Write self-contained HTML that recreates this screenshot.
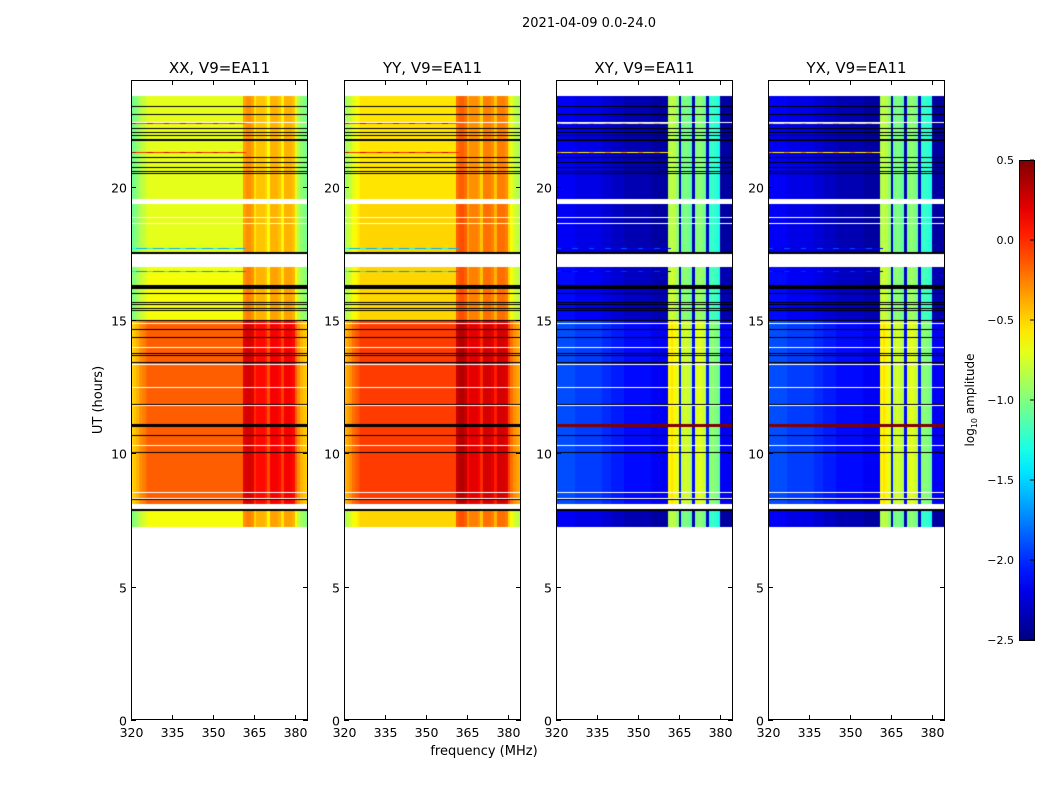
<!DOCTYPE html>
<html><head><meta charset="utf-8">
<style>
body{margin:0;background:#fff;width:1050px;height:800px;overflow:hidden;font-family:"DejaVu Sans","Liberation Sans",sans-serif;}
#root{position:relative;width:1050px;height:800px;}
canvas{position:absolute;}
svg{position:absolute;left:0;top:0;}
</style></head>
<body><div id="root">
<svg id="ov" width="1050" height="800"></svg>
</div>
<script>
// ---- data ----
const panelTitles = ["XX, V9=EA11","YY, V9=EA11","XY, V9=EA11","YX, V9=EA11"];
const panelKind = ["par","par","cross","cross"];
const xTicks = [320,335,350,365,380];
const yTicks = [0,5,10,15,20];
const cbTicks = [0.5,0.0,-0.5,-1.0,-1.5,-2.0,-2.5];
// time bands (hours) and levels per panel
const bandStart = [7.25, 8.1, 15.0, 17.5, 19.54];
const bandEnd   = [7.9, 15.0, 17.0, 19.35, 23.4];
const xxLevel = [-0.65, -0.15, -0.65, -0.7, -0.7];
const yyLevel = [-0.5, -0.05, -0.5, -0.5, -0.55];
const xyLevel = [-2.4, -2.15, -2.35, -2.4, -2.4];
const yxLevel = [-2.4, -2.15, -2.35, -2.4, -2.4];
// frequency profiles (1 MHz columns, 320..384)
const freqs = Array.from({length:65},(_,i)=>320+i);
const parProfile = [-0.35,-0.3,-0.25,-0.15,-0.1,-0.05,0,0,0,0, 0,0,0,0,0,0,0,0,0,0, 0,0,0,0,0,0,0,0,0,0, 0,0,0,0,0,0,0,0,0,0, 0,0.35,0.4,0.4,0.35,0.15,0.25,0.25,0.25,0.2, 0.05,0.3,0.3,0.3,0.25,0.1,0.3,0.3,0.3,0.25, 0.0,-0.15,-0.25,-0.3,-0.35];
const crossProfile = [0.25,0.25,0.25,0.25,0.25,0.25,0.25,0.2,0.2,0.2, 0.2,0.2,0.2,0.2,0.2,0.2,0.2,0.15,0.15,0.15, 0.1,0.1,0.1,0.1,0.1,0.05,0.05,0.05,0.05,0.05, 0.05,0.05,0.05,0.05,0.05,0,0,0,0,0, 0,1.55,1.6,1.55,1.45,0.1,1.35,1.4,1.35,1.3, 0.05,1.4,1.45,1.4,1.35,0.1,1.15,1.2,1.15,1.1, 0,0,0,0,0];
const blackLines = [23.02,22.72,22.2,22.05,21.94,21.75,21.11,20.93,20.74,20.59,20.51,17.51,16.24,16.01,15.68,15.6,15.45,15.38,15.0,14.66,14.36,13.76,13.69,13.43,11.85,11.06,10.69,10.05,8.29,7.88];
const blackWidth = [1,1,1,1,1,2,1,1,1,1,1,2,4,1,1,1,1,1,1,1,1,1,1,1,1,3,1,1,1,2];
const whiteLines = [22.43,18.86,18.62,14.9,14.0,13.35,12.5,11.8,10.3,8.55,8.32];
const spotLines = [22.4,21.3,17.7,16.85];
const spotVal = [0.2,0.3,-1.3,-1.4];
</script>
<script>
const NS="http://www.w3.org/2000/svg";
const ov=document.getElementById('ov');
const root=document.getElementById('root');
const lefts=[131,344,556,768], TOP=80, W=177, H=640, XMIN=320, XMAX=384.9, YMAX=24;
function jet(v){
  v=Math.max(0,Math.min(1,v));
  const r=Math.max(0,Math.min(1,1.5-Math.abs(4*v-3)));
  const g=Math.max(0,Math.min(1,1.5-Math.abs(4*v-2)));
  const b=Math.max(0,Math.min(1,1.5-Math.abs(4*v-1)));
  return `rgb(${Math.round(r*255)},${Math.round(g*255)},${Math.round(b*255)})`;
}
function norm(val){return (val+2.5)/3;}
function mk(tag,attrs,parent){const e=document.createElementNS(NS,tag);for(const k in attrs)e.setAttribute(k,attrs[k]);(parent||ov).appendChild(e);return e;}
function txt(x,y,s,size,anchor,parent){const t=mk('text',{x:x,y:y,'font-size':size,'text-anchor':anchor||'middle','font-family':'DejaVu Sans, Liberation Sans, sans-serif',fill:'#000'},parent);t.textContent=s;return t;}

const t0=txt(589,27,"2021-04-09 0.0-24.0",13);



for(let p=0;p<4;p++){
  const L=lefts[p];
  const sx=f=>Math.round((f-XMIN)/(XMAX-XMIN)*W);
  const sy=h=>Math.round(H-h/YMAX*H);
  const cv=document.createElement('canvas');
  cv.width=W;cv.height=H;cv.style.left=L+'px';cv.style.top=TOP+'px';
  
  
  root.insertBefore(cv,ov);
  const ctx=cv.getContext('2d');
  const levels=[xxLevel,yyLevel,xyLevel,yxLevel][p];
  const prof=panelKind[p]==='par'?parProfile:crossProfile;
  for(let b=0;b<bandStart.length;b++){
    const y0=sy(bandEnd[b]), y1=sy(bandStart[b]);
    for(let i=0;i<freqs.length;i++){
      const x0=sx(freqs[i]), x1=Math.min(W,sx(freqs[i]+1));
      ctx.fillStyle=jet(norm(levels[b]+prof[i]));
      ctx.fillRect(x0,y0,Math.max(1,x1-x0),y1-y0);
    }
  }
  for(let k=0;k<spotLines.length;k++){
    for(let i=0;i<41;i+=2){
      const base=panelKind[p]==='par'?spotVal[k]:spotVal[k]-0.6;
      ctx.fillStyle=jet(norm(base+((i%6)?-0.3:0)));
      ctx.fillRect(sx(freqs[i]),sy(spotLines[k]),sx(freqs[i]+2)-sx(freqs[i]),1);
    }
  }
  for(let k=0;k<whiteLines.length;k++){ctx.fillStyle='#fff';ctx.fillRect(0,sy(whiteLines[k]),W,1);}
  for(let k=0;k<blackLines.length;k++){
    ctx.fillStyle=(panelKind[p]==='cross'&&Math.abs(blackLines[k]-11.06)<0.01)?'#7f0000':'#000';
    ctx.fillRect(0,sy(blackLines[k])-Math.floor(blackWidth[k]/2),W,blackWidth[k]);
  }
  const g=mk('g',{});
  
  
  mk('rect',{x:L+0.5,y:TOP+0.5,width:W-1,height:H-1,fill:'none',stroke:'#000','stroke-width':1},g);
  const tt=txt(L+W/2,TOP-7,panelTitles[p],15,'middle',g);
  
  
  for(const f of xTicks){
    const x=L+sx(f)+0.5;
    mk('line',{x1:x,y1:TOP+H,x2:x,y2:TOP+H-5,stroke:'#000'},g);
    mk('line',{x1:x,y1:TOP,x2:x,y2:TOP+5,stroke:'#000'},g);
    const lt=txt(x,TOP+H+17,String(f),12.5,'middle',g);
    
    
  }
  for(const h of yTicks){
    const y=TOP+sy(h)+0.5;
    mk('line',{x1:L,y1:y,x2:L+5,y2:y,stroke:'#000'},g);
    mk('line',{x1:L+W,y1:y,x2:L+W-5,y2:y,stroke:'#000'},g);
    const lt=txt(L-4,y+5,String(h),12.5,'end',g);
    
    
  }
}
const yl=txt(0,0,"UT (hours)",13);
yl.setAttribute('transform','translate(102,400) rotate(-90)');


const xl=txt(484,755,"frequency (MHz)",13);



const CBX=1019,CBY=160,CBW=15,CBH=480;
const cb=mk('g',{});


const defs=mk('defs',{},cb);
const lg=mk('linearGradient',{id:'jetg',x1:0,y1:1,x2:0,y2:0},defs);
for(let i=0;i<=20;i++){mk('stop',{offset:i/20,'stop-color':jet(i/20)},lg);}
mk('rect',{x:CBX+0.5,y:CBY+0.5,width:CBW,height:CBH,fill:'url(#jetg)',stroke:'#000'},cb);
for(const v of cbTicks){
  const y=CBY+CBH-(v+2.5)/3*CBH;
  mk('line',{x1:CBX+CBW,y1:y,x2:CBX+CBW-4,y2:y,stroke:'#000'},cb);
  const s=(v<0?'\u2212':'')+Math.abs(v).toFixed(1);
  const ct=txt(1014,y+4,s,11,'end',cb);
  
  
}
const cl=mk('text',{transform:'translate(974,400) rotate(-90)','font-size':12,'text-anchor':'middle','font-family':'DejaVu Sans, sans-serif'});
cl.innerHTML='log<tspan font-size="8" dy="3">10</tspan><tspan dy="-3"> amplitude</tspan>';


</script>
</body></html>
